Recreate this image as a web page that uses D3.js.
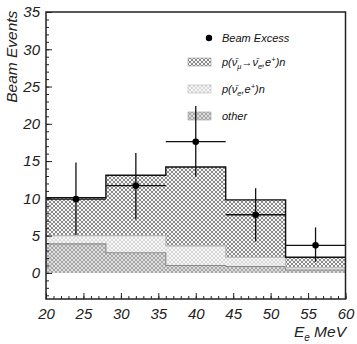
<!DOCTYPE html>
<html>
<head>
<meta charset="utf-8">
<script src="https://cdn.jsdelivr.net/npm/d3@7"></script>
<style>
  body { margin: 0; background: #fff; }
  svg { display: block; font-family: "Liberation Sans", Arial, sans-serif; }
</style>
</head>
<body>
<script>
// bin edges (MeV) and stacked background components per bin
const binEdges = [20, 28, 36, 44, 52, 60];
const otherBg = [3.9, 2.7, 1.0, 0.85, 0.4];
const nueBg = [1.1, 2.3, 2.6, 1.25, 0.3];
const oscSignal = [5.1, 8.1, 10.6, 7.7, 1.4];

// beam excess points
const excessE = [24, 32, 40, 48, 56];
const excessVal = [9.9, 11.7, 17.6, 7.8, 3.7];
const excessLo = [5.1, 7.2, 12.9, 4.2, 1.5];
const excessHi = [14.8, 16.1, 22.4, 11.35, 6.1];

const yMajor = [0, 5, 10, 15, 20, 25, 30, 35];
const xMajor = [20, 25, 30, 35, 40, 45, 50, 55, 60];

const W = 357, H = 344;
const svg = d3.select('body').append('svg').attr('width', W).attr('height', H);

const x = d3.scaleLinear().domain([20, 60]).range([46, 345.5]);
const y = d3.scaleLinear().domain([-3.5, 35]).range([299, 12]);

/** patterns */
const defs = svg.append('defs');
function pattern(id, bg, fg, size, sw) {
  const p = defs.append('pattern').attr('id', id)
    .attr('patternUnits', 'userSpaceOnUse')
    .attr('width', size).attr('height', size);
  p.append('rect').attr('width', size).attr('height', size).attr('fill', bg);
  p.append('path')
    .attr('d', `M0,0L${size},${size}M${size},0L0,${size}`)
    .attr('stroke', fg).attr('stroke-width', sw);
}
pattern('osc', '#f6f6f6', '#6e6e6e', 4, 0.8);
pattern('nue', '#f7f7f7', '#d4d4d4', 4, 0.9);
pattern('other', '#dcdcdc', '#a2a2a2', 4, 0.9);

// table of bins, last edge repeated for step drawing
const rows = binEdges.map((e, i) => {
  const k = Math.min(i, otherBg.length - 1);
  return {e: e, other: otherBg[k], nue: nueBg[k], osc: oscSignal[k]};
});

const keys = ['other', 'nue', 'osc'];
const series = d3.stack().keys(keys)(rows);
const fills = {other: 'url(#other)', nue: 'url(#nue)', osc: 'url(#osc)'};
const edges = {other: '#8a8a8a', nue: '#b8b8b8', osc: '#111'};

const area = d3.area()
  .curve(d3.curveStepAfter)
  .x(d => x(d.data.e))
  .y0(d => y(d[0]))
  .y1(d => y(d[1]));

const topLine = d3.line()
  .curve(d3.curveStepAfter)
  .x(d => x(d.data.e))
  .y(d => y(d[1]));

svg.append('g').selectAll('path')
  .data(series)
  .enter().append('path')
  .attr('d', area)
  .attr('fill', d => fills[d.key]);

svg.append('g').selectAll('path')
  .data(series)
  .enter().append('path')
  .attr('d', topLine)
  .attr('fill', 'none')
  .attr('stroke', d => edges[d.key])
  .attr('stroke-width', d => d.key === 'osc' ? 1.4 : 1.1);

// legend
const lg = svg.append('g').attr('font-style', 'italic').attr('font-size', 11).attr('fill', '#111');
lg.append('circle').attr('cx', 209).attr('cy', 38).attr('r', 3.2).attr('fill', '#000');
lg.append('text').attr('x', 222).attr('y', 42).text('Beam Excess');

const legendRows = [
  {key: 'osc', cy: 62},
  {key: 'nue', cy: 89},
  {key: 'other', cy: 116}
];
lg.selectAll('rect.key')
  .data(legendRows)
  .enter().append('rect')
  .attr('class', 'key')
  .attr('x', 188).attr('y', d => d.cy - 4)
  .attr('width', 23).attr('height', 8)
  .attr('fill', d => fills[d.key])
  .attr('stroke', d => d.key === 'nue' ? '#bbb' : '#999')
  .attr('stroke-width', 0.6);

const nubar = 'ν\u0304';
const t1 = lg.append('text').attr('x', 222).attr('y', 66);
t1.append('tspan').text('p(' + nubar);
t1.append('tspan').attr('font-size', 7.5).attr('dy', 3).text('μ');
t1.append('tspan').attr('dy', -3).text('→' + nubar);
t1.append('tspan').attr('font-size', 7.5).attr('dy', 3).text('e');
t1.append('tspan').attr('dy', -3).text(',e');
t1.append('tspan').attr('font-size', 7.5).attr('dy', -4).text('+');
t1.append('tspan').attr('dy', 4).text(')n');

const t2 = lg.append('text').attr('x', 222).attr('y', 93);
t2.append('tspan').text('p(' + nubar);
t2.append('tspan').attr('font-size', 7.5).attr('dy', 3).text('e');
t2.append('tspan').attr('dy', -3).text(',e');
t2.append('tspan').attr('font-size', 7.5).attr('dy', -4).text('+');
t2.append('tspan').attr('dy', 4).text(')n');

lg.append('text').attr('x', 222).attr('y', 120).text('other');

// data points with error bars
const pts = excessE.map((e, i) => ({e: e, v: excessVal[i], lo: excessLo[i], hi: excessHi[i]}));
const pg = svg.append('g').selectAll('g').data(pts).enter().append('g');
pg.append('line')
  .attr('x1', d => x(d.e - 4)).attr('x2', d => x(d.e + 4))
  .attr('y1', d => y(d.v)).attr('y2', d => y(d.v))
  .attr('stroke', '#111').attr('stroke-width', 1.3);
pg.append('line')
  .attr('x1', d => x(d.e)).attr('x2', d => x(d.e))
  .attr('y1', d => y(d.lo)).attr('y2', d => y(d.hi))
  .attr('stroke', '#111').attr('stroke-width', 1.3);
pg.append('circle')
  .attr('cx', d => x(d.e)).attr('cy', d => y(d.v))
  .attr('r', 3.3).attr('fill', '#000');

// axes
const yMinorAxis = d3.axisLeft(y).tickValues(d3.range(-3, 36)).tickSize(-3).tickFormat('');
const yMajorAxis = d3.axisLeft(y).tickValues(yMajor).tickSize(-6).tickPadding(6);
const xMinorAxis = d3.axisBottom(x).tickValues(d3.range(20, 61)).tickSize(-3).tickFormat('');
const xMajorAxis = d3.axisBottom(x).tickValues(xMajor).tickSize(-6).tickPadding(9);

function styleAxis(g) {
  g.select('.domain').remove();
  g.selectAll('line').attr('stroke', '#222').attr('stroke-width', 1);
  g.selectAll('text')
    .attr('font-family', '"Liberation Sans", Arial, sans-serif')
    .attr('font-size', 15).attr('font-style', 'italic').attr('fill', '#222');
}

svg.append('g').attr('transform', `translate(${x(20)},0)`).call(yMinorAxis).call(styleAxis);
svg.append('g').attr('transform', `translate(${x(20)},0)`).call(yMajorAxis).call(styleAxis);
svg.append('g').attr('transform', `translate(0,${y(-3.5)})`).call(xMinorAxis).call(styleAxis);
svg.append('g').attr('transform', `translate(0,${y(-3.5)})`).call(xMajorAxis).call(styleAxis);

// frame
svg.append('rect')
  .attr('x', x(20)).attr('y', y(35))
  .attr('width', x(60) - x(20)).attr('height', y(-3.5) - y(35))
  .attr('fill', 'none').attr('stroke', '#222').attr('stroke-width', 1.5);

// axis titles
svg.append('text')
  .attr('transform', `translate(17,${y(29)}) rotate(-90)`)
  .attr('text-anchor', 'middle')
  .attr('font-size', 15.5).attr('font-style', 'italic').attr('fill', '#222')
  .text('Beam Events');

const xt = svg.append('text')
  .attr('x', 346).attr('y', 337)
  .attr('text-anchor', 'end')
  .attr('font-size', 15.5).attr('font-style', 'italic').attr('fill', '#222');
xt.append('tspan').text('E');
xt.append('tspan').attr('font-size', 10).attr('dy', 4).text('e');
xt.append('tspan').attr('dy', -4).text(' MeV');
</script>
</body>
</html>
